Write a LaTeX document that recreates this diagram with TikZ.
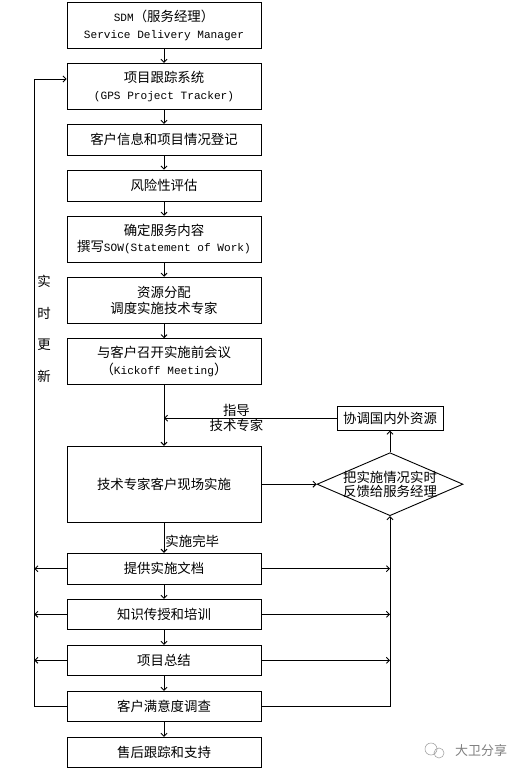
\documentclass[tikz,border=0pt]{standalone}
\usepackage{fontspec}
\setmainfont{Noto Sans CJK SC}
\setmonofont{Liberation Mono}[Scale=0.83]
\usetikzlibrary{arrows.meta,shapes.geometric}

\begin{document}
\begin{tikzpicture}[>={Straight Barb[length=3pt,width=6pt]},x=1pt,y=-1pt,line width=.9pt,
	box/.style={draw,minimum width=194pt,minimum height=31pt,inner sep=2pt,align=center,font=\fontsize{13.4pt}{16.5pt}\selectfont},
	tall/.style={box,minimum height=46pt},
	feedbox/.style={draw,diamond,inner sep=0pt,minimum width=146pt,minimum height=63pt},
	txt/.style={align=center,inner sep=1pt,font=\fontsize{13.4pt}{15.3pt}\selectfont}]
	\useasboundingbox (0,0) rectangle (523,775);
	% main column
	\node[tall] (sdm) at (164,25.3) {\texttt{SDM}（服务经理）\\\texttt{Service Delivery Manager}};
	\node[tall] (gps) at (164,86.3) {项目跟踪系统\\\texttt{(GPS Project Tracker)}};
	\node[box] (info) at (164,139.8) {客户信息和项目情况登记};
	\node[box] (risk) at (164,185.5) {风险性评估};
	\node[tall] (sow) at (164,239.2) {确定服务内容\\撰写\texttt{SOW(Statement of Work)}};
	\node[tall] (alloc) at (164,300.2) {资源分配\\调度实施技术专家};
	\node[tall] (kick) at (164,361.7) {与客户召开实施前会议\\（\texttt{Kickoff Meeting}）};
	\node[box,minimum height=76pt] (onsite) at (164,484.2) {技术专家客户现场实施};
	\node[box] (doc) at (164,568.7) {提供实施文档};
	\node[box,minimum height=30pt] (train) at (164,614.3) {知识传授和培训};
	\node[box,minimum height=30pt] (summ) at (164,660.3) {项目总结};
	\node[box,minimum height=30pt] (survey) at (164,706.3) {客户满意度调查};
	\node[box,minimum height=30pt] (support) at (164,752.3) {售后跟踪和支持};
	% right side
	\node[box,minimum width=106pt,minimum height=24pt] (coord) at (390,418.2) {协调国内外资源};
	\node[feedbox] (feed) at (390,484.2) {};
	\node[txt,font=\fontsize{13.4pt}{14.3pt}\selectfont] (feedtxt) at (feed) {把实施情况实时\\反馈给服务经理};
	% left side
	\coordinate (upd) at (34.3,79);
	\node[txt,font=\fontsize{13.4pt}{31.5pt}\selectfont] (updtxt) at (44,329) {实\\时\\更\\新};

	\foreach \a/\b in {sdm/gps,gps/info,info/risk,risk/sow,sow/alloc,alloc/kick,kick/onsite,doc/train,train/summ,summ/survey,survey/support}
		\draw[->] (\a) -- (\b);
	\draw[->] (onsite) -- node[pos=.62,right,txt] (done) {实施完毕} (doc);
	\draw[->] (coord.west) -- node[pos=.58,txt] (guide) {指导\\技术专家} (coord.west -| kick);
	\draw[->] (onsite.east) -- (feed.west);
	\draw[->] (feed) -- (coord);
	\foreach \n in {doc,train,summ}{
		\draw[->] (\n.west) -- (\n.west -| upd);
		\draw[->] (\n.east) -- (\n.east -| feed);
	}
	\draw[->] (survey.west) -| (upd) -- (upd -| gps.west);
	\draw[->] (survey.east) -| (feed.south);

	% mark
	\draw[gray!70,line width=.6pt] (431,749) circle (6) (439,753) circle (5);
	\node[text=gray,inner sep=0pt,font=\fontsize{13pt}{13pt}\selectfont] (mark) at (481,751) {大卫分享};
\end{tikzpicture}
\end{document}
